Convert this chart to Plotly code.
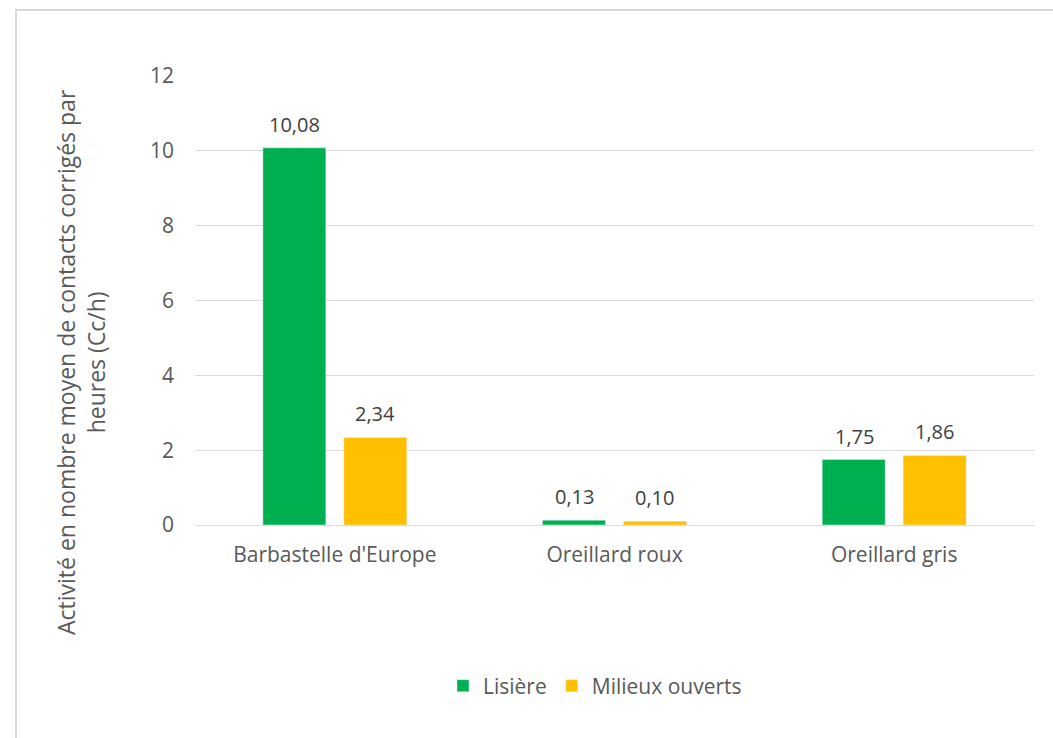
import plotly.graph_objects as go

categories = ["Barbastelle d'Europe", "Oreillard roux", "Oreillard gris"]
lisiere = [10.08, 0.13, 1.75]
milieux = [2.34, 0.10, 1.86]
y_ticks = [0, 2, 4, 6, 8, 10, 12]

def fr(v):
    return f"{v:.2f}".replace(".", ",")

W, H = 1053, 738
L, R, T, B = 195, 19, 76, 213
pw, ph = W - L - R, H - T - B

def px_x(x):
    return (x - L) / pw

def px_y(y):
    return (H - B - y) / ph

font_family = "Open Sans, Lato, sans-serif"
green, yellow = "#00B050", "#FFC000"

fig = go.Figure()
fig.add_trace(go.Bar(x=categories, y=lisiere, name="Lisière", marker_color=green))
fig.add_trace(go.Bar(x=categories, y=milieux, name="Milieux ouverts", marker_color=yellow))

# data labels placed through the axes
for series, shift in ((lisiere, -40), (milieux, 40)):
    for cat, v in zip(categories, series):
        fig.add_annotation(x=cat, y=v, xref="x", yref="y", text=fr(v), showarrow=False,
                           xshift=shift, yshift=8, yanchor="bottom",
                           font=dict(size=20, color="#404040", family=font_family))

fig.update_layout(
    width=W, height=H,
    margin=dict(l=L, r=R, t=T, b=B),
    paper_bgcolor="white", plot_bgcolor="white",
    barmode="group", bargap=0.421, bargroupgap=0.222,
    font=dict(family=font_family, color="#595959", size=20),
    showlegend=True,
    legend=dict(orientation="h", x=px_x(595), y=px_y(686), xanchor="center", yanchor="middle",
                font=dict(size=21, color="#595959"), itemwidth=30,
                traceorder="normal"),
    xaxis=dict(showgrid=False, showline=True, linecolor="#d9d9d9", linewidth=1,
               ticks="", ticklabelstandoff=11, tickfont=dict(size=21, color="#595959")),
    yaxis=dict(range=[0, 12], tickvals=y_ticks, showgrid=True, gridcolor="#d9d9d9",
               gridwidth=1, zeroline=False, showline=False, ticks="", ticklabelstandoff=20,
               tickfont=dict(size=21, color="#595959")),
)

fig.add_annotation(
    text="Activité en nombre moyen de contacts corrigés par<br>heures (Cc/h)",
    xref="paper", yref="paper", x=px_x(81), y=px_y(362),
    xanchor="center", yanchor="middle", textangle=-90, showarrow=False,
    font=dict(size=23, color="#595959", family=font_family),
)

fig.add_shape(type="rect", xref="paper", yref="paper",
              x0=px_x(16), x1=px_x(1100), y0=px_y(10), y1=px_y(800),
              line=dict(color="#d9d9d9", width=2), layer="below")

fig.write_html("out.html")
